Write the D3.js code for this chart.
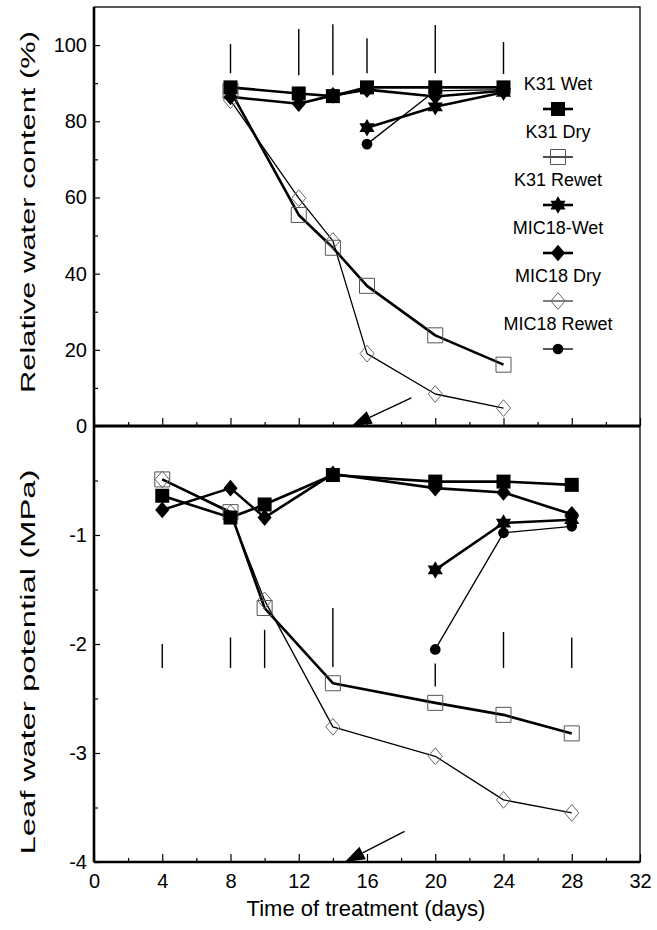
<!DOCTYPE html>
<html><head><meta charset="utf-8">
<script src="https://cdn.jsdelivr.net/npm/d3@7"></script>
<style>
html,body{margin:0;padding:0;background:#fff;}
svg{display:block;font-family:"Liberation Sans",Arial,sans-serif;}
</style></head>
<body>
<svg id="chart" width="657" height="930"></svg>
<script>
// ---------- data ----------
const seriesNames = ["K31 Wet","K31 Dry","K31 Rewet","MIC18-Wet","MIC18 Dry","MIC18 Rewet"];

// Relative water content (%) - top panel
const rwcDays      = [8,12,14,16,20,24];
const rwcK31Wet    = [88.9,87.3,86.6,88.9,88.9,88.9];
const rwcK31Dry    = [88.0,55.4,46.8,36.8,23.8,16.1];
const rwcMIC18Wet  = [86.4,84.6,86.8,88.3,86.5,88.0];
const rwcMIC18Dry  = [85.5,59.8,48.6,19.0,8.4,4.7];
const rwcRewetDays = [16,20,24];
const rwcK31Rewet  = [78.3,83.8,87.6];
const rwcMIC18Rewet= [74.0,88.0,88.3];
const rwcBarDays   = [8,12,14,16,20,24];
const rwcBarLow    = [92.6,92.1,92.1,92.6,92.6,92.4];
const rwcBarHigh   = [100.3,104.2,105.5,101.8,105.3,100.8];
const rwcArrow     = {from:[18.6,7.4], to:[15.1,0]};

// Leaf water potential (MPa) - bottom panel
const lwpDays      = [4,8,10,14,20,24,28];
const lwpK31Wet    = [-0.64,-0.84,-0.72,-0.45,-0.51,-0.51,-0.54];
const lwpK31Dry    = [-0.49,-0.79,-1.67,-2.36,-2.54,-2.65,-2.82];
const lwpMIC18Wet  = [-0.77,-0.57,-0.84,-0.44,-0.57,-0.61,-0.81];
const lwpMIC18Dry  = [-0.49,-0.80,-1.60,-2.76,-3.03,-3.43,-3.55];
const lwpRewetDays = [20,24,28];
const lwpK31Rewet  = [-1.32,-0.89,-0.86];
const lwpMIC18Rewet= [-2.05,-0.98,-0.92];
const lwpBarDays   = [4,8,10,14,20,24,28];
const lwpBarHigh   = [-2.00,-1.94,-1.87,-1.67,-2.18,-1.89,-1.94];
const lwpBarLow    = [-2.22,-2.22,-2.22,-2.21,-2.39,-2.22,-2.22];
const lwpArrow     = {from:[18.2,-3.72], to:[14.7,-4.0]};

// ticks
const xTicks      = [0,4,8,12,16,20,24,28,32];
const xMinorTicks = [2,6,10,14,18,22,26,30];
const rwcTicks    = [0,20,40,60,80,100];
const rwcMinor    = [10,30,50,70,90];
const lwpTicks    = [-1,-2,-3,-4];
const lwpMinor    = [-0.5,-1.5,-2.5,-3.5];

const xTitle   = "Time of treatment (days)";
const rwcTitle = "Relative water content  (%)";
const lwpTitle = "Leaf water potential (MPa)";

// ---------- setup ----------
const svg = d3.select("#chart");
const x  = d3.scaleLinear().domain([0,32]).range([94,640]);
const yT = d3.scaleLinear().domain([0,110]).range([426,7]);
const yB = d3.scaleLinear().domain([-4,0]).range([862,426]);

// symbol types
const diamondType = {draw(ctx,size){const w=Math.sqrt(size)/2,h=w*1.18;ctx.moveTo(0,-h);ctx.lineTo(w,0);ctx.lineTo(0,h);ctx.lineTo(-w,0);ctx.closePath();}};
const starType = {draw(ctx,size){const R=Math.sqrt(size)/2*1.25;
  for(const off of [-Math.PI/2, Math.PI/2]){
    for(let i=0;i<3;i++){const a=off+i*2*Math.PI/3;const px=R*Math.cos(a),py=R*Math.sin(a);if(i===0)ctx.moveTo(px,py);else ctx.lineTo(px,py);}
    ctx.closePath();}}};
const markers = {
  fsq:{type:d3.symbolSquare,size:196,fill:"#000",stroke:"#000",sw:0},
  osq:{type:d3.symbolSquare,size:225,fill:"none",stroke:"#555",sw:1},
  star:{type:starType,size:196,fill:"#000",stroke:"#000",sw:0},
  fdia:{type:diamondType,size:200,fill:"#000",stroke:"#000",sw:0},
  odia:{type:diamondType,size:200,fill:"none",stroke:"#666",sw:1},
  circ:{type:d3.symbolCircle,size:90,fill:"#000",stroke:"#000",sw:0}
};
const seriesStyle = [
  {marker:"fsq",lw:2.6},{marker:"osq",lw:2.6},{marker:"star",lw:2.6},
  {marker:"fdia",lw:2.6},{marker:"odia",lw:1.3},{marker:"circ",lw:1.3}
];
const seriesLegendLw = [2.6,1.4,2.6,2.6,1.0,1.3];

function drawPanel(y, days, rewetDays, vals){
  const data = vals.map((v,i)=>{
    const xs = (i===2||i===5)?rewetDays:days;
    return xs.map((d,j)=>[d,v[j]]);
  });
  const line = d3.line().x(d=>x(d[0])).y(d=>y(d[1]));
  const g = svg.append("g");
  data.forEach((pts,i)=>{
    g.append("path").attr("d",line(pts)).attr("fill","none").attr("stroke","#000")
     .attr("stroke-width",seriesStyle[i].lw).attr("stroke-linejoin","round");
  });
  const order=[1,4,3,5,2,0];
  order.forEach(i=>{
    const m = markers[seriesStyle[i].marker];
    g.selectAll(null).data(data[i]).join("path")
     .attr("d",d3.symbol().type(m.type).size(m.size)())
     .attr("transform",d=>`translate(${x(d[0])},${y(d[1])})`)
     .attr("fill",m.fill).attr("stroke",m.stroke).attr("stroke-width",m.sw);
  });
}

function drawBars(y, days, lo, hi){
  svg.append("g").selectAll("line").data(days).join("line")
    .attr("x1",d=>x(d)).attr("x2",d=>x(d))
    .attr("y1",(d,i)=>y(lo[i])).attr("y2",(d,i)=>y(hi[i]))
    .attr("stroke","#000").attr("stroke-width",1.4);
}
drawBars(yT, rwcBarDays, rwcBarLow, rwcBarHigh);
drawBars(yB, lwpBarDays, lwpBarLow, lwpBarHigh);

drawPanel(yT, rwcDays, rwcRewetDays, [rwcK31Wet,rwcK31Dry,rwcK31Rewet,rwcMIC18Wet,rwcMIC18Dry,rwcMIC18Rewet]);
drawPanel(yB, lwpDays, lwpRewetDays, [lwpK31Wet,lwpK31Dry,lwpK31Rewet,lwpMIC18Wet,lwpMIC18Dry,lwpMIC18Rewet]);

function drawArrow(y, a){
  const x1=x(a.from[0]),y1=y(a.from[1]),x2=x(a.to[0]),y2=y(a.to[1]);
  const ang=Math.atan2(y2-y1,x2-x1), L=20, W=7;
  const bx=x2-L*Math.cos(ang), by=y2-L*Math.sin(ang);
  svg.append("line").attr("x1",x1).attr("y1",y1).attr("x2",bx).attr("y2",by)
    .attr("stroke","#000").attr("stroke-width",1.4);
  const px=-Math.sin(ang)*W, py=Math.cos(ang)*W;
  svg.append("path").attr("d",`M${x2},${y2}L${bx+px},${by+py}L${bx-px},${by-py}Z`).attr("fill","#000");
}
drawArrow(yT, rwcArrow);
drawArrow(yB, lwpArrow);

svg.append("rect").attr("x",x(0)).attr("y",yT(110)).attr("width",x(32)-x(0)).attr("height",yB(-4)-yT(110))
  .attr("fill","none").attr("stroke","#000").attr("stroke-width",1.3);

const fontSz = 20;
const fmt = d => String(d);
function styleAxis(g){ g.select(".domain").remove(); g.selectAll("text").attr("font-size",fontSz).attr("font-family","Liberation Sans, Arial, sans-serif").attr("fill","#000"); g.selectAll("line").attr("stroke","#000").attr("stroke-width",1.2); }
svg.append("g").attr("transform",`translate(${x(0)},0)`)
  .call(d3.axisLeft(yT).tickValues(rwcTicks).tickSizeInner(-6).tickSizeOuter(0).tickPadding(7).tickFormat(fmt)).call(styleAxis);
svg.append("g").attr("transform",`translate(${x(0)},0)`)
  .call(d3.axisLeft(yT).tickValues(rwcMinor).tickSizeInner(-4).tickSizeOuter(0).tickFormat("")).call(styleAxis);
svg.append("g").attr("transform",`translate(${x(0)},0)`)
  .call(d3.axisLeft(yB).tickValues(lwpTicks).tickSizeInner(-6).tickSizeOuter(0).tickPadding(7).tickFormat(fmt)).call(styleAxis);
svg.append("g").attr("transform",`translate(${x(0)},0)`)
  .call(d3.axisLeft(yB).tickValues(lwpMinor).tickSizeInner(-4).tickSizeOuter(0).tickFormat("")).call(styleAxis);
svg.append("g").attr("transform",`translate(0,${yB(-4)})`)
  .call(d3.axisBottom(x).tickValues(xTicks).tickSizeInner(-8).tickSizeOuter(0).tickPadding(12).tickFormat(fmt)).call(styleAxis);
svg.append("g").attr("transform",`translate(0,${yB(-4)})`)
  .call(d3.axisBottom(x).tickValues(xMinorTicks).tickSizeInner(-4).tickSizeOuter(0).tickFormat("")).call(styleAxis);
svg.append("g").attr("transform",`translate(0,${yT(0)})`)
  .call(d3.axisBottom(x).tickValues(xTicks).tickSizeInner(-8).tickSizeOuter(0).tickFormat("")).call(styleAxis);
svg.append("g").attr("transform",`translate(0,${yT(0)})`)
  .call(d3.axisBottom(x).tickValues(xMinorTicks).tickSizeInner(-4).tickSizeOuter(0).tickFormat("")).call(styleAxis);

svg.append("line").attr("x1",x(0)).attr("x2",x(0)).attr("y1",yT(110)).attr("y2",yB(-4)).attr("stroke","#000").attr("stroke-width",2.6);
svg.append("line").attr("x1",x(0)).attr("x2",x(32)).attr("y1",yT(0)).attr("y2",yT(0)).attr("stroke","#000").attr("stroke-width",3.2);
svg.append("line").attr("x1",x(0)).attr("x2",x(32)).attr("y1",yB(-4)).attr("y2",yB(-4)).attr("stroke","#000").attr("stroke-width",2.4);

svg.append("text").attr("x",366).attr("y",916).attr("text-anchor","middle").attr("font-size",22).text(xTitle);
svg.append("text").attr("transform","translate(35,212) rotate(-90)").attr("text-anchor","middle")
  .attr("font-size",21).attr("textLength",362).attr("lengthAdjust","spacingAndGlyphs").text(rwcTitle);
svg.append("text").attr("transform","translate(35,662) rotate(-90)").attr("text-anchor","middle")
  .attr("font-size",21).attr("textLength",385).attr("lengthAdjust","spacingAndGlyphs").text(lwpTitle);

const leg = svg.append("g");
seriesNames.forEach((name,i)=>{
  const cy = 83 + i*48;
  leg.append("text").attr("x",558).attr("y",cy+7).attr("text-anchor","middle").attr("font-size",18).text(name);
  const my = cy + 26;
  leg.append("line").attr("x1",543).attr("x2",573).attr("y1",my).attr("y2",my).attr("stroke","#000").attr("stroke-width",seriesLegendLw[i]);
  const m = markers[seriesStyle[i].marker];
  leg.append("path").attr("d",d3.symbol().type(m.type).size(m.size)()).attr("transform",`translate(558,${my})`)
    .attr("fill",m.fill).attr("stroke",m.stroke).attr("stroke-width",m.sw);
});
</script>
</body></html>
